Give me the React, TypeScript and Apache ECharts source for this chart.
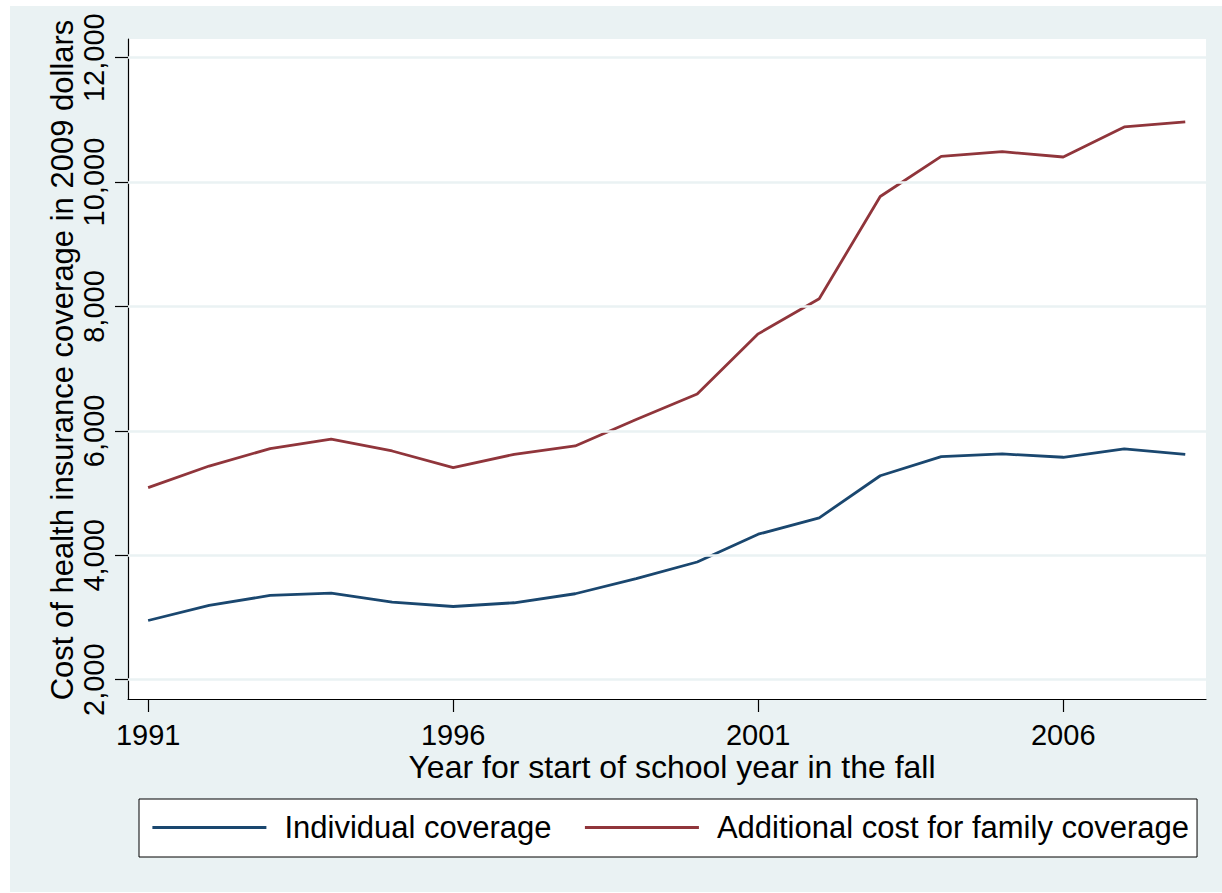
import React, { useEffect, useRef } from "react";
import * as echarts from "echarts";

const years = [1991, 1992, 1993, 1994, 1995, 1996, 1997, 1998, 1999, 2000, 2001, 2002, 2003, 2004, 2005, 2006, 2007, 2008];
const individual = [2952, 3194, 3355, 3392, 3247, 3177, 3237, 3382, 3624, 3892, 4339, 4602, 5279, 5586, 5629, 5576, 5710, 5624];
const family = [5087, 5435, 5716, 5866, 5677, 5410, 5624, 5758, 6184, 6592, 7560, 8124, 9768, 10413, 10489, 10403, 10887, 10968];
const xTicks = [1991, 1996, 2001, 2006];
const yTicks = [2000, 4000, 6000, 8000, 10000, 12000];
const seriesNames = ["Individual coverage", "Additional cost for family coverage"];
const xTitle = "Year for start of school year in the fall";
const yTitle = "Cost of health insurance coverage in 2009 dollars";

const FONT = "'Liberation Sans', Arial, Helvetica, sans-serif";
const BLUE = "#1A476F";
const RED = "#90353B";
const BG = "#EAF2F3";

export default function App() {
  const ref = useRef<HTMLDivElement>(null);
  useEffect(() => {
    if (!ref.current) return;
    const chart = echarts.init(ref.current, undefined, { renderer: "svg" });
    chart.setOption({
      animation: false,
      textStyle: { fontFamily: FONT, color: "#000" },
      graphic: [
        {
          type: "rect",
          z: -100,
          silent: true,
          shape: { x: 10, y: 6, width: 1212, height: 886 },
          style: { fill: BG },
        },
      ],
      grid: {
        left: 128,
        top: 39,
        right: 16,
        bottom: 194,
        show: true,
        backgroundColor: "#fff",
        borderWidth: 0,
      },
      legend: {
        left: 139,
        top: 799,
        backgroundColor: "#fff",
        borderColor: "#000",
        borderWidth: 1,
        borderRadius: 0,
        padding: [13, 8, 14, 12],
        itemWidth: 114,
        itemHeight: 31,
        itemGap: 32,
        data: seriesNames,
        itemStyle: { opacity: 0, borderWidth: 0 },
        lineStyle: { width: 2.8 },
        textStyle: { fontFamily: FONT, fontSize: 31, color: "#000", padding: [0, 0, 0, 13] },
      },
      xAxis: {
        type: "value",
        min: 1990.67,
        max: 2008.34,
        name: xTitle,
        nameLocation: "middle",
        nameGap: 54,
        nameMoveOverlap: false,
        nameTextStyle: {
          fontFamily: FONT,
          fontSize: 32,
          lineHeight: 28,
          color: "#000",
          verticalAlign: "top",
          padding: [0, 0, 0, 10],
        },
        axisLine: { show: true, onZero: false, lineStyle: { color: "#000", width: 1.2 } },
        axisTick: { show: true, length: 13, customValues: xTicks, lineStyle: { color: "#000", width: 1.2 } },
        axisLabel: {
          customValues: xTicks,
          margin: 23,
          fontFamily: FONT,
          fontSize: 29,
          lineHeight: 25,
          color: "#000",
          formatter: (v: number) => String(v),
        },
        splitLine: { show: false },
      },
      yAxis: {
        type: "value",
        min: 1690,
        max: 12300,
        name: yTitle,
        nameLocation: "middle",
        nameGap: 50,
        nameMoveOverlap: false,
        nameTextStyle: { fontFamily: FONT, fontSize: 31, color: "#000", padding: [0, 0, 0, 18] },
        axisLine: { show: true, onZero: false, lineStyle: { color: "#000", width: 1.2 } },
        axisTick: { show: true, length: 13, customValues: yTicks, lineStyle: { color: "#000", width: 1.2 } },
        axisLabel: {
          customValues: yTicks,
          rotate: 90,
          margin: 20,
          fontFamily: FONT,
          fontSize: 29,
          color: "#000",
          formatter: (v: number) => v.toLocaleString("en-US"),
        },
        splitLine: { show: false },
      },
      series: [
        {
          name: "__grid",
          type: "line",
          data: [],
          silent: true,
          z: 1,
          markLine: {
            silent: true,
            symbol: "none",
            label: { show: false },
            lineStyle: { color: BG, width: 2.5, type: "solid" },
            data: yTicks.map((v) => ({ yAxis: v })),
          },
        },
        {
          name: seriesNames[0],
          type: "line",
          z: 3,
          symbol: "none",
          showSymbol: false,
          lineStyle: { color: BLUE, width: 2.8 },
          itemStyle: { color: BLUE },
          data: years.map((y, i) => [y, individual[i]]),
        },
        {
          name: seriesNames[1],
          type: "line",
          z: 3,
          symbol: "none",
          showSymbol: false,
          lineStyle: { color: RED, width: 2.8 },
          itemStyle: { color: RED },
          data: years.map((y, i) => [y, family[i]]),
        },
      ],
    });
    return () => chart.dispose();
  }, []);
  return (
    <div
      ref={ref}
      style={{ position: "absolute", left: 0, top: 0, width: 1222, height: 893, background: "#fff" }}
    />
  );
}
